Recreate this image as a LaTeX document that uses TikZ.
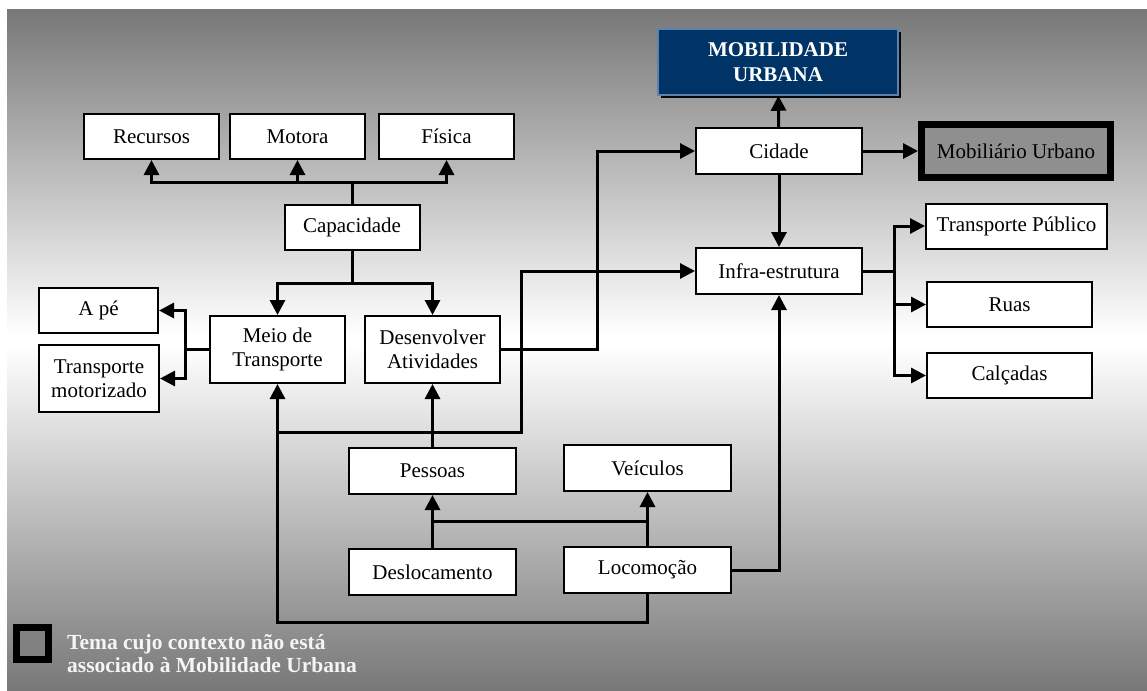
\documentclass[tikz,border=0pt]{standalone}
\usepackage{fontspec}
\setmainfont{Liberation Serif}
\usetikzlibrary{arrows.meta,shadows}

\definecolor{bggray}{RGB}{120,120,120}
\definecolor{navyblue}{RGB}{0,51,102}
\definecolor{navyline}{RGB}{95,130,170}
\definecolor{themegray}{RGB}{143,143,143}

\tikzset{
  box/.style={draw=black, line width=2pt, fill=white, inner sep=0pt,
    align=center, minimum height=45pt,
    font=\fontsize{21}{23.5}\selectfont},
  tallbox/.style={box, minimum height=67pt},
  conn/.style={line width=3pt},
  arr/.style={conn, -{Triangle[length=15pt,width=15pt]}},
}

\begin{document}
\begin{tikzpicture}[x=1pt,y=-1pt]
  \useasboundingbox (0,0) rectangle (1147,690);
  \fill[white] (0,0) rectangle (1147,690);
  % fundo
  \shade[top color=bggray, bottom color=white] (7,10) rectangle (1147,335);
  \fill[white] (7,334) rectangle (1147,346);
  \shade[top color=white, bottom color=bggray] (7,345) rectangle (1147,690);

  % caixas
  \node[box, minimum width=135pt] (recursos) at (151.5,136.5) {Recursos};
  \node[box, minimum width=135pt] (motora) at (297.5,136.5) {Motora};
  \node[box, minimum width=135pt] (fisica) at (446.5,136.5) {Física};
  \node[box, minimum width=135pt] (capacidade) at (352,227) {Capacidade};
  \node[box, minimum width=119pt] (ape) at (98.5,310.5) {A pé};
  \node[tallbox, minimum width=120pt] (tmotor) at (99,378.5) {Transporte\\motorizado};
  \node[tallbox, minimum width=135pt] (meio) at (277.5,349.5) {Meio de\\Transporte};
  \node[tallbox, minimum width=135pt] (desenv) at (432.5,349.5) {Desenvolver\\Atividades};
  \node[box, minimum width=167pt, minimum height=46pt] (pessoas) at (432.5,471) {Pessoas};
  \node[box, minimum width=167pt, minimum height=46pt] (veiculos) at (647.5,468) {Veículos};
  \node[box, minimum width=167pt, minimum height=46pt] (desloc) at (432.5,572) {Deslocamento};
  \node[box, minimum width=167pt, minimum height=46pt] (locom) at (647.5,570) {Locomoção};
  \node[box, minimum width=166pt, minimum height=46pt] (cidade) at (779,151) {Cidade};
  \node[box, minimum width=166pt, minimum height=46pt] (infra) at (779,271) {Infra-estrutura};
  \node[box, minimum width=181pt] (tpublico) at (1016.5,226) {Transporte Público};
  \node[box, minimum width=165pt] (ruas) at (1009.5,304.5) {Ruas};
  \node[box, minimum width=165pt] (calcadas) at (1009.5,375.5) {Calçadas};
  \node[box, fill=themegray, line width=7pt, minimum width=189pt,
    minimum height=53pt] (mobiliario) at (1016,151) {Mobiliário Urbano};
  \node[draw=navyline, line width=1.5pt, fill=navyblue, text=white,
    minimum width=240pt, minimum height=66pt, align=center,
    font=\fontsize{21}{25}\selectfont\bfseries,
    drop shadow={shadow xshift=3pt, shadow yshift=-3pt, fill=black!85!navyblue, opacity=1}]
    (mobilidade) at (778,62) {MOBILIDADE\\URBANA};

  % capacidade
  \coordinate (capup) at (352,182);
  \draw[conn] (capacidade) -- (capup);
  \foreach \n in {recursos,motora,fisica}
    \draw[arr] (capup) -| (\n);
  \coordinate (capdn) at (352,283);
  \draw[conn] (capacidade) -- (capdn);
  \foreach \n in {meio,desenv}
    \draw[arr] (capdn) -| (\n);

  % meio de transporte
  \coordinate (meiol) at (185,349.5);
  \draw[conn] (meio) -- (meiol);
  \foreach \n in {ape,tmotor}
    \draw[arr] (meiol) |- (\n);

  % desenvolver -> cidade, meio -> infra
  \coordinate (dc) at (597,349.5);
  \draw[arr] (desenv) -- (dc) |- (cidade);
  \coordinate (mi) at (277.5,432);
  \coordinate (mi2) at (521,432);
  \draw[arr] (mi) -- (mi2) |- (infra);

  % locomocao
  \coordinate (lm) at (647.5,622);
  \draw[arr] (locom) -- (lm) -| (meio);
  \draw[arr] (locom) -| (infra);
  \draw[arr] (desloc) -- coordinate[midway] (dpm) (pessoas);
  \draw[arr] (locom) -- coordinate[midway] (lvm) (veiculos);
  \draw[conn] (dpm) -- (dpm -| lvm);
  \draw[arr] (pessoas) -- (desenv);

  % cidade
  \draw[arr] (cidade) -- (mobilidade);
  \draw[arr] (cidade) -- (mobiliario);
  \draw[arr] (cidade) -- (infra);

  % infra-estrutura
  \coordinate (ir) at (894,271);
  \draw[conn] (infra) -- (ir);
  \foreach \n in {tpublico,ruas,calcadas}
    \draw[arr] (ir) |- (\n);

  % legenda
  \node[draw=black, fill=themegray!90!black, line width=7pt, minimum size=32pt,
    inner sep=0pt] (legbox) at (32.5,643.5) {};
  \node[anchor=west, align=left, text=white!96!black, inner sep=0pt,
    font=\fontsize{21.5}{23}\selectfont\bfseries] (legtext) at (67,653.5)
    {Tema cujo contexto não está\\associado à Mobilidade Urbana};
\end{tikzpicture}
\end{document}
